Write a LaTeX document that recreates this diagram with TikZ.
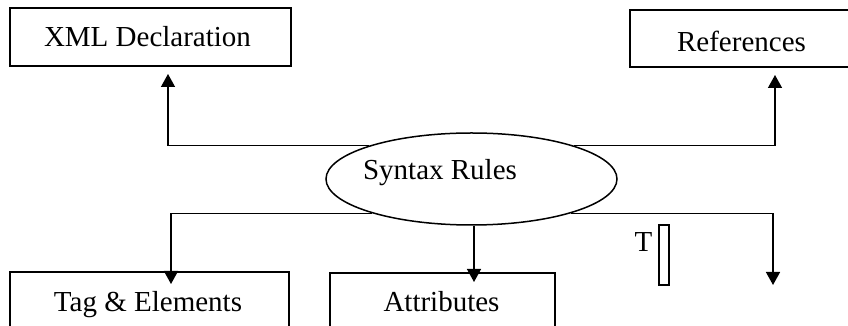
\documentclass[tikz,border=0pt]{standalone}
\usepackage{fontspec}
\setmainfont{Liberation Serif}
\usetikzlibrary{arrows.meta,shapes.geometric}
\begin{document}
\begin{tikzpicture}[x=1pt,y=1pt,
  box/.style={draw,line width=1.5pt,rectangle,inner sep=0pt},
  txt/.style={anchor=base,inner sep=0pt,font=\fontsize{29}{34}\selectfont},
  link/.style={line width=1.4pt,-{Triangle[width=14pt,length=13pt]}}]
\useasboundingbox (0,0) rectangle (848,326);
\clip (0,0) rectangle (848,326);

% top boxes
\node[box,minimum width=281pt,minimum height=58pt] (xml) at (150.5,289) {};
\node[txt] (xmltext) at (147.5,279) {XML Declaration};
\node[box,minimum width=222pt,minimum height=57pt] (ref) at (741,287.5) {};
\node[txt] (reftext) at (741.5,274) {References};

% central ellipse
\node[draw,ellipse,line width=1.5pt,inner sep=0pt,minimum width=291pt,minimum height=92pt] (syn) at (471.5,147) {};
\node[txt] (syntext) at (440,146) {Syntax Rules};

% bottom boxes (cut by the lower edge)
\node[box,minimum width=279pt,minimum height=74pt] (tag) at (149.5,17) {};
\node[txt] (tagtext) at (148,14) {Tag \& Elements};
\node[box,minimum width=225pt,minimum height=73pt] (attr) at (442.5,16.5) {};
\node[txt] (attrtext) at (441.5,14) {Attributes};

% the small T mark
\node[txt] (tmark) at (643.5,74) {T};
\node[box,minimum width=10pt,minimum height=60pt] (bar) at (664,71) {};

% arrow end points
\coordinate (xmlend) at (168,252);
\coordinate (refend) at (775,251);
\coordinate (tagend) at (171,42);
\coordinate (attrend) at (474,44);
\coordinate (freeend) at (773,41);

% connectors
\draw[link] (syn.162) -| (xmlend);
\draw[link] (syn.18) -| (refend);
\draw[link] (syn.199) -| (tagend);
\draw[link] (syn.south -| attrend) -- (attrend);
\draw[link] (syn.341) -| (freeend);
\end{tikzpicture}
\end{document}
